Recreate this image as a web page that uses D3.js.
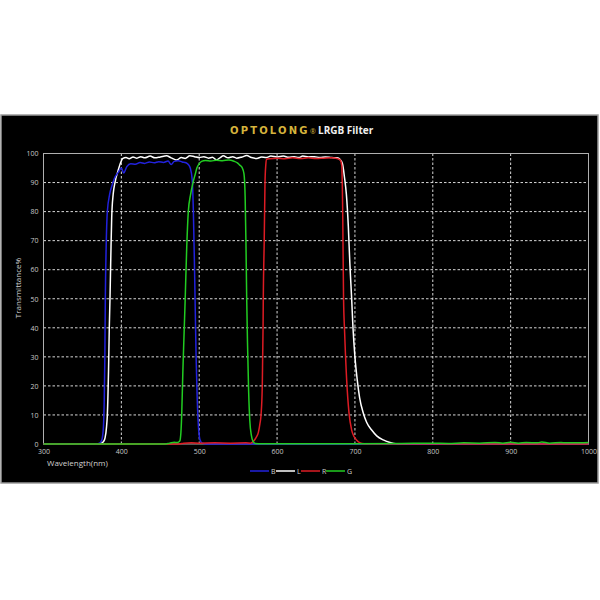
<!DOCTYPE html>
<html>
<head>
<meta charset="utf-8">
<script src="https://cdn.jsdelivr.net/npm/d3@7"></script>
<style>
html,body{margin:0;padding:0;background:#fff;}
svg{display:block;}
</style>
</head>
<body>
<svg id="chart" width="600" height="600"></svg>
<script>
// ---- data ----
const xTicks = [300, 400, 500, 600, 700, 800, 900, 1000];
const yTicks = [0, 10, 20, 30, 40, 50, 60, 70, 80, 90, 100];
const seriesNames = ["B", "L", "R", "G"];

const lWave  = [300,370,374,377,379,381,382,383.5,384.5,385.4,386.5,387.6,389.5,391.8,395.7,399,402,406,410,415,420,425,430,437,443,450,458,464,471,477,482,488,494,500,506,512,517,522,527,531,537,543,548,555,561,567,574,580,586,592,600,608,615,622,628,633,640,648,655,662,670,677,681,684,686.5,689,691.5,693.5,695.8,697.5,700,703,706,710.7,715,721.5,728,736.4,744,750,760,1000];
const lTrans = [0,0,0.2,0.8,2,6,10,25,40,50,65,78,86,90,94,96.8,98.3,98.6,98.2,98.8,98.4,98.9,98.5,99.1,98.5,98.8,99.2,98.5,97.8,98.6,98.3,99.2,98.9,98.6,98.9,98.4,98.7,97.8,98.6,99.2,98.5,98.9,98.4,98.8,99.3,98.6,98.3,98.8,98.6,99.1,98.8,99.1,98.7,98.9,98.6,99.1,98.8,98.9,98.6,98.8,98.6,98.5,97.9,96.5,92,86,75,62,50,40,30,22,16,10.7,7.5,4.8,2.8,1.4,0.6,0.2,0,0];

const bWave  = [300,368,372,375,377,378,378.8,379.4,380.5,382,385,388,392,396,400,403,407,412,418,424,430,436,442,448,454,460,464,468,473,478,483,486,488.5,491,492.5,494,495,496,497.5,499,501,504,510,1000];
const bTrans = [0,0,0.3,1.5,6,15,30,50,68,80,86,89,92,93.5,95,93.3,95.5,96.5,96.3,96.9,96.6,97.1,96.8,97.2,96.9,97.4,96.2,97.3,97.5,97.1,96.8,96.2,95,91,80,60,45,30,15,6,1.5,0.3,0,0];

const rWave  = [300,475,480,490,500,520,540,560,566,570,573,576,578,579.4,581,581.5,582,582.3,583.5,584.5,585.5,586.6,590,600,610,620,630,640,650,660,670,677,681,683,684.3,685.4,686.7,689.4,692.4,695.8,699,702,706,712,1000];
const rTrans = [0,0,0.3,0.4,0.3,0.4,0.3,0.4,0.3,1,2.2,4,7,10,20,30,40,50,70,90,96,98,98.2,98.4,98.2,98.5,98.3,98.5,98.3,98.4,98.5,98.3,97.8,96,80,50,39,22,10.7,4.8,2.5,1.4,0.5,0.1,0];

const gWave  = [300,455,462,468,472,475,476.5,477.5,479,480.8,482,484,486,489,492,495,497,500,503,508,515,522,530,538,545,549,552,555,557.5,559,560,561,562,563.5,565,567,569,572,580,700,760,800,820,840,860,880,890,900,910,920,935,940,950,965,970,980,1000];
const gTrans = [0,0,0.3,0.6,0.5,1,4,10,25,40,50,68,80,86,90,93,95,96.5,97.3,97.6,97.4,97.7,97.5,97.8,97.3,96.8,96,95.2,93,85,70,50,35,18,8,3,1,0.2,0.1,0.1,0.2,0.3,0.2,0.4,0.3,0.5,0.3,0.6,0.3,0.5,0.4,0.7,0.3,0.5,0.4,0.4,0.5];

const seriesWave  = {B: bWave, L: lWave, R: rWave, G: gWave};
const seriesTrans = {B: bTrans, L: lTrans, R: rTrans, G: gTrans};
const colors = {B: "#2222dd", L: "#ffffff", R: "#dd1c24", G: "#22cc22"};

// ---- layout ----
const svg = d3.select("#chart");
svg.append("rect").attr("x", 1).attr("y", 115).attr("width", 597).attr("height", 368)
  .attr("fill", "#000").attr("stroke", "#9a9a9a").attr("stroke-width", 1.5);

const x = d3.scaleLinear().domain([300, 1000]).range([43.5, 588.5]);
const y = d3.scaleLinear().domain([0, 100]).range([444, 153.5]);

// grid
const grid = svg.append("g");
grid.selectAll("line.v").data(xTicks.slice(1, -1)).join("line")
  .attr("x1", d => x(d)).attr("x2", d => x(d)).attr("y1", y(0)).attr("y2", y(100))
  .attr("stroke", "#d8d8d8").attr("stroke-width", 1).attr("stroke-dasharray", "2.5,2");
grid.selectAll("line.h").data(yTicks.slice(1, -1)).join("line")
  .attr("x1", x(300)).attr("x2", x(1000)).attr("y1", d => y(d)).attr("y2", d => y(d))
  .attr("stroke", "#d8d8d8").attr("stroke-width", 1).attr("stroke-dasharray", "2.5,2");

// plot border
svg.append("rect").attr("x", x(300)).attr("y", y(100))
  .attr("width", x(1000) - x(300)).attr("height", y(0) - y(100))
  .attr("fill", "none").attr("stroke", "#b0b0b0").attr("stroke-width", 1);

// axes
const fontFam = "'Open Sans', 'Liberation Sans', sans-serif";
const xAxis = svg.append("g").attr("transform", `translate(0,${y(0)})`)
  .call(d3.axisBottom(x).tickValues(xTicks).tickSize(0).tickPadding(5).tickFormat(d3.format("d")));
const yAxis = svg.append("g").attr("transform", `translate(${x(300)},0)`)
  .call(d3.axisLeft(y).tickValues(yTicks).tickSize(0).tickPadding(5).tickFormat(d3.format("d")));
[xAxis, yAxis].forEach(a => {
  a.select(".domain").remove();
  a.selectAll("text").attr("fill", "#c8c8c8").attr("font-size", 7).attr("font-family", fontFam);
});

svg.append("text").attr("x", 47).attr("y", 466).text("Wavelength(nm)")
  .attr("fill", "#d0d0d0").attr("font-size", 8).attr("font-family", fontFam);
svg.append("text").attr("transform", "translate(21,288) rotate(-90)").attr("text-anchor", "middle")
  .text("Transmittance%").attr("fill", "#d0d0d0").attr("font-size", 8).attr("font-family", fontFam);

// title
const title = svg.append("text").attr("y", 134).attr("font-family", fontFam);
title.append("tspan").attr("x", 230).text("OPTOLONG").attr("fill", "#d6b43c")
  .attr("font-size", 10).attr("font-weight", "bold").attr("font-family", "'DejaVu Sans', sans-serif")
  .attr("letter-spacing", 1.6).attr("textLength", 79).attr("lengthAdjust", "spacing");
title.append("tspan").attr("x", 310).attr("dy", 0).text("®").attr("fill", "#d6b43c").attr("font-size", 7);
title.append("tspan").attr("x", 318).text("LRGB Filter").attr("fill", "#f0f0f0")
  .attr("font-size", 10).attr("font-weight", "bold");

// lines
const line = d3.line().x(d => x(d[0])).y(d => y(d[1])).curve(d3.curveMonotoneX);
const drawOrder = ["L", "B", "R", "G"];
svg.append("g").selectAll("path").data(drawOrder).join("path")
  .attr("d", k => line(d3.zip(seriesWave[k], seriesTrans[k])))
  .attr("fill", "none").attr("stroke", k => colors[k]).attr("stroke-width", 1.5)
  .attr("stroke-linejoin", "round");

// legend
const legX = [250, 276, 301, 326];
const leg = svg.append("g").selectAll("g").data(seriesNames).join("g")
  .attr("transform", (d, i) => `translate(${legX[i]},471)`);
leg.append("line").attr("x1", 0).attr("x2", 19).attr("y1", 0).attr("y2", 0)
  .attr("stroke", d => colors[d]).attr("stroke-width", 1.5);
leg.append("text").attr("x", 21).attr("y", 2.5).text(d => d)
  .attr("fill", "#d0d0d0").attr("font-size", 7).attr("font-family", fontFam);
</script>
</body>
</html>
